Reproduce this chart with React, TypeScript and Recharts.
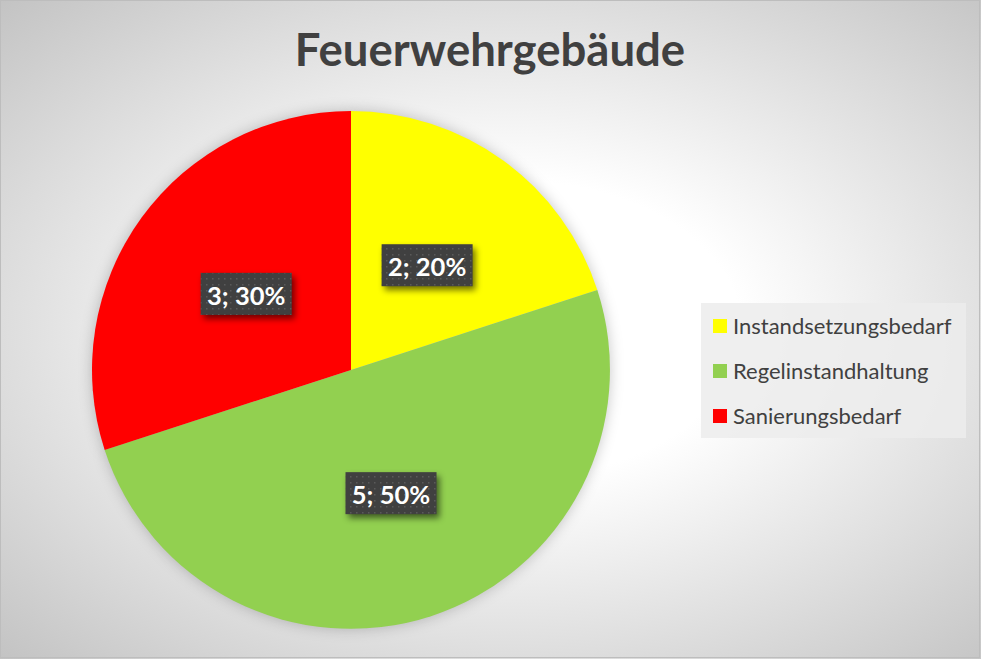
import React from 'react';
import { PieChart, Pie, Cell, Legend } from 'recharts';

const title = 'Feuerwehrgebäude';
const categories = ['Instandsetzungsbedarf', 'Regelinstandhaltung', 'Sanierungsbedarf'];
const values = [2, 5, 3];
const colors = ['#FFFF00', '#92D050', '#FF0000'];

const data = categories.map((name, i) => ({ name, value: values[i] }));
const RAD = Math.PI / 180;

function renderLabel(props: any) {
  const { cx, cy, midAngle, outerRadius, value, percent, index } = props;
  const r = outerRadius * 0.5;
  const x = cx + r * Math.cos(-midAngle * RAD);
  const y = cy + r * Math.sin(-midAngle * RAD);
  const w = 91;
  const h = 42;
  return (
    <g key={`lbl-${index}`}>
      <rect x={x - w / 2 + 3} y={y - h / 2 + 4} width={w} height={h} fill="rgba(0,0,0,0.55)" style={{ filter: 'blur(3px)' }} />
      <rect x={x - w / 2} y={y - h / 2} width={w} height={h} fill="#404040" />
      <rect x={x - w / 2} y={y - h / 2} width={w} height={h} fill="url(#lblDots)" />
      <text x={x} y={y + 1} textAnchor="middle" dominantBaseline="central" fill="#ffffff" fontFamily="Lato" fontWeight={700} fontSize={25.5}>
        {`${value}; ${Math.round(percent * 100)}%`}
      </text>
    </g>
  );
}

function LegendBox() {
  return (
    <div style={{ width: 265, height: 135, background: 'rgba(236,236,236,0.85)', fontFamily: 'Lato', fontSize: 22, color: '#404040' }}>
      {categories.map((c, i) => (
        <div key={c} style={{ height: 45, display: 'flex', alignItems: 'center', paddingLeft: 12 }}>
          <span style={{ display: 'inline-block', width: 14, height: 14, background: colors[i], marginRight: 6 }} />
          <span style={{ lineHeight: '22px' }}>{c}</span>
        </div>
      ))}
    </div>
  );
}

export default function App() {
  return (
    <div style={{ position: 'relative', width: 981, height: 659, overflow: 'hidden', background: 'radial-gradient(ellipse at 52% 50%, #ffffff 0%, #ffffff 32%, #c3c3c3 100%)' }}>
      <style>{`body{margin:0}`}</style>
      <PieChart width={981} height={659} margin={{ top: 0, right: 0, bottom: 0, left: 0 }} style={{ position: 'absolute', left: 0, top: 0 }}>
        <defs>
          <pattern id="lblDots" width="6" height="6" patternUnits="userSpaceOnUse">
            <rect x="2" y="2" width="1.5" height="1.5" fill="#5a5a5a" />
          </pattern>
        </defs>
        <Pie
          data={data}
          dataKey="value"
          nameKey="name"
          cx={351}
          cy={370}
          outerRadius={259}
          startAngle={90}
          endAngle={-270}
          stroke="none"
          isAnimationActive={false}
          legendType="none"
          label={false}
          labelLine={false}
        >
          {data.map((d) => (
            <Cell key={`sh-${d.name}`} fill="#000000" fillOpacity={0.22} style={{ filter: 'blur(7px)' }} />
          ))}
        </Pie>
        <Pie
          data={data}
          dataKey="value"
          nameKey="name"
          cx={351}
          cy={370}
          outerRadius={259}
          startAngle={90}
          endAngle={-270}
          stroke="none"
          isAnimationActive={false}
          label={renderLabel}
          labelLine={false}
        >
          {data.map((d, i) => (
            <Cell key={d.name} fill={colors[i]} />
          ))}
        </Pie>
        <Legend
          content={() => <LegendBox />}
          wrapperStyle={{ position: 'absolute', left: 701, top: 303, width: 265, height: 135 }}
        />
      </PieChart>
      <svg width={981} height={659} style={{ position: 'absolute', left: 0, top: 0, pointerEvents: 'none' }}>
        <text x={490} y={66} textAnchor="middle" fontFamily="Lato" fontWeight={700} fontSize={45.5} fill="#404040">
          {title}
        </text>
        <rect x={0.5} y={0.5} width={979} height={657} fill="none" stroke="#bdbdbd" strokeWidth={1} />
      </svg>
    </div>
  );
}
